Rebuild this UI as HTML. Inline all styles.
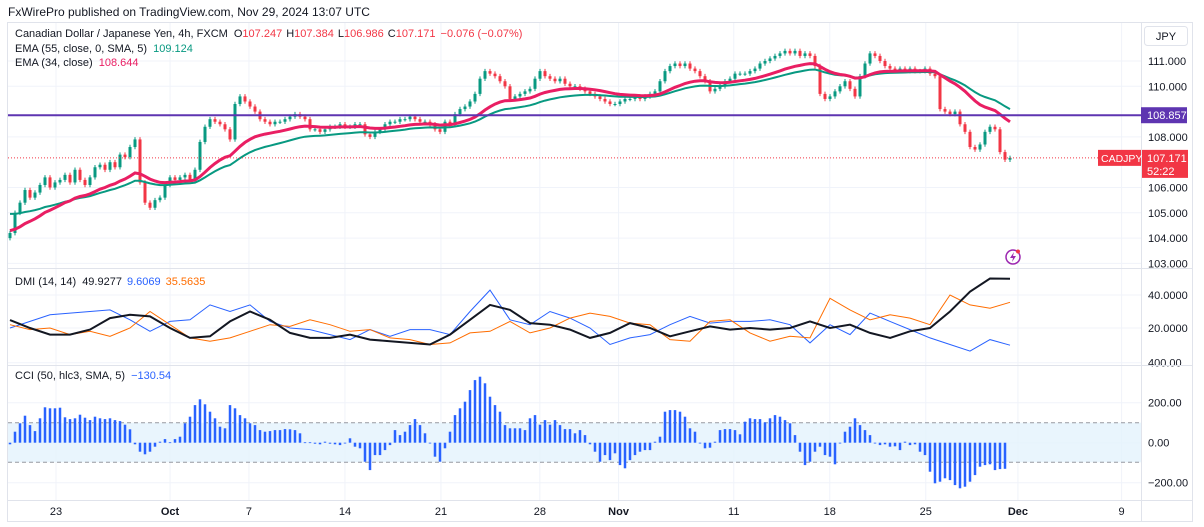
<!DOCTYPE html>
<html><head><meta charset="utf-8">
<style>
html,body{margin:0;padding:0;background:#fff;}
body{width:1204px;height:522px;overflow:hidden;font-family:"Liberation Sans",sans-serif;}
svg text{font-family:"Liberation Sans",sans-serif;}
</style></head>
<body>
<svg id="chart" width="1204" height="522" xmlns="http://www.w3.org/2000/svg">
<text x="8" y="16" font-size="12" fill="#131722">FxWirePro published on TradingView.com, Nov 29, 2024 13:07 UTC</text>
<rect x="7.5" y="22.5" width="1185" height="499" fill="none" stroke="#e0e3eb"/>
<g id="grid"></g>
<rect x="8" y="422.7" width="1133" height="39.6" fill="#e3f2fd" opacity="0.8"/>
<line x1="8" x2="1141" y1="422.7" y2="422.7" stroke="#9598a1" stroke-dasharray="4,3"/>
<line x1="8" x2="1141" y1="462.3" y2="462.3" stroke="#9598a1" stroke-dasharray="4,3"/>
<g id="candles"></g>
<g id="emas"></g>
<g id="dmi"></g>
<g id="cci"></g>
<g id="axes"></g>
<g font-size="11">
<text x="15" y="37" fill="#131722">Canadian Dollar / Japanese Yen, 4h, FXCM <tspan dx="3">O</tspan><tspan fill="#f23645">107.247</tspan><tspan dx="4">H</tspan><tspan fill="#f23645">107.384</tspan><tspan dx="4">L</tspan><tspan fill="#f23645">106.986</tspan><tspan dx="4">C</tspan><tspan fill="#f23645">107.171</tspan><tspan dx="5" fill="#f23645">−0.076 (−0.07%)</tspan></text>
<text x="15" y="52" fill="#131722">EMA (55, close, 0, SMA, 5) <tspan dx="3" fill="#089981">109.124</tspan></text>
<text x="15" y="66" fill="#131722">EMA (34, close) <tspan dx="3" fill="#e91e63">108.644</tspan></text>
<text x="15" y="285" fill="#131722">DMI (14, 14) <tspan dx="3">49.9277</tspan><tspan dx="5" fill="#2962ff">9.6069</tspan><tspan dx="5" fill="#ff6d00">35.5635</tspan></text>
<text x="15" y="379" fill="#131722">CCI (50, hlc3, SMA, 5) <tspan dx="3" fill="#2962ff">−130.54</tspan></text>
</g>
<rect x="1144.5" y="26.5" width="43" height="19" rx="3" fill="#fff" stroke="#e0e3eb"/>
<text x="1166" y="40" font-size="11" text-anchor="middle" fill="#131722">JPY</text>
<g>
<circle cx="1013" cy="257" r="7" fill="none" stroke="#9c27b0" stroke-width="1.5"/>
<path d="M1014 252 L1010 258 L1013 258 L1012 262 L1016 256 L1013 256 Z" fill="#9c27b0"/>
<circle cx="1018" cy="251.5" r="2" fill="#f23645"/>
</g>
</svg>
<script>
// ===== data =====
const closes=[104.2,105.0,105.4,105.9,105.6,105.8,106.1,106.4,106.0,106.2,106.3,106.5,106.2,106.7,106.3,106.1,106.4,106.8,106.9,106.7,107.0,106.8,107.3,107.2,107.6,107.9,106.2,105.4,105.2,105.5,105.6,106.1,106.4,106.3,106.4,106.5,106.3,106.7,107.8,108.4,108.7,108.6,108.5,108.3,107.9,109.3,109.6,109.4,109.2,109.0,108.7,108.6,108.5,108.6,108.6,108.7,108.8,108.9,108.8,108.7,108.3,108.3,108.2,108.3,108.4,108.4,108.5,108.4,108.4,108.5,108.5,108.1,108.0,108.2,108.3,108.5,108.6,108.6,108.7,108.7,108.8,108.7,108.6,108.6,108.5,108.3,108.2,108.6,108.5,108.9,109.1,109.2,109.4,109.7,110.3,110.6,110.5,110.4,110.2,110.0,109.5,109.6,109.7,109.8,109.9,110.3,110.6,110.4,110.3,110.2,110.3,110.1,110.0,110.0,109.9,109.8,109.7,109.6,109.5,109.4,109.3,109.3,109.4,109.5,109.5,109.6,109.5,109.6,109.7,109.8,110.2,110.6,110.8,110.9,110.8,110.9,110.7,110.6,110.4,110.2,109.8,109.9,110.0,110.2,110.3,110.5,110.5,110.5,110.6,110.7,110.9,111.0,111.1,111.2,111.3,111.4,111.3,111.4,111.2,111.3,111.2,110.8,109.7,109.5,109.6,109.8,110.0,110.2,109.9,109.6,110.4,110.9,111.3,111.2,111.0,110.8,110.7,110.6,110.7,110.6,110.7,110.6,110.6,110.7,110.5,110.4,109.1,109.0,108.9,109.0,108.5,108.2,107.6,107.5,107.7,108.2,108.4,108.3,107.4,107.1,107.171];
const cciValues=[-8,55,97,135,88,58,122,177,172,172,175,127,118,122,140,125,113,130,122,118,122,113,108,90,67,-8,-45,-58,-45,-20,5,18,2,18,30,97,130,188,217,192,155,122,80,72,188,172,138,122,97,88,63,55,58,63,63,68,67,63,47,2,2,-5,-8,5,-5,-8,-12,-3,22,-20,-28,-95,-137,-62,-62,-37,-12,63,38,55,88,118,88,47,-3,-70,-95,-28,55,138,172,205,263,313,330,297,230,188,155,88,72,72,72,63,122,138,90,113,90,113,88,68,68,47,63,38,-8,-45,-95,-62,-87,-53,-112,-128,-87,-62,-45,-37,-37,5,30,155,163,163,155,130,72,55,-3,-28,-25,5,63,68,68,63,42,105,122,118,118,102,122,138,130,113,97,38,-45,-112,-95,-45,-20,-62,-70,-108,-3,55,80,122,88,63,38,-3,-12,-8,-20,-18,-37,5,-12,-8,-45,-62,-145,-203,-195,-178,-187,-212,-228,-220,-195,-162,-120,-112,-108,-137,-132,-130.54];
const adxValues=[24.8,20,16,16,19,26,28,27,20,14,15,24,30,25,17,14,14,16,13,12,11,10,16,25,34,31,23,22,19,14,17,23,20,15,18,21,19,20,19,20,24,20,22,17,14,18,20,30,42,50,49.9];
const plusDI=[20,24,28,29,30,31,25,18,24,25,34,30,34,24,20,19,16,13,19,15,19,19,16,30,43,25,22,30,26,20,10,14,16,22,27,23,24,24,25,22,11,22,16,29,24,19,14,10,6,13,9.6];
const minusDI=[22,19,20,16,18,15,20,30,22,14,12,14,18,22,21,25,22,18,19,14,13,10,11,17,18,24,17,20,26,29,27,23,22,13,12,24,25,17,12,15,14,38,31,25,28,26,22,40,34,32,35.6];
const priceTicks=[111,110,108,106,105,104,103];
const dmiTicks=[40,20];
const cciTicks=[400,200,0,-200];
const dateLabels=["23","Oct","7","14","21","28","Nov","11","18","25","Dec","9"];
const dateDays=[0,5.94,10.05,15.05,20.05,25.2,29.3,35.3,40.3,45.3,50.1,55.5]; // trading-day offsets from Sep 23
const hLevel=108.857;
const lastPrice=107.171;

// ===== scales =====
const NS='http://www.w3.org/2000/svg';
const xBar=i=>10+i*5;
const xDay=d=>56+d*19.2;
const yPrice=p=>61+(111-p)*25.3;
const yDmi=v=>328-(v-20)*1.65;
const yCci=v=>442.7-v*0.2;
const xDmi=i=>10+i*20;
function mk(tag,attrs,parent){const e=document.createElementNS(NS,tag);for(const k in attrs)e.setAttribute(k,attrs[k]);parent.appendChild(e);return e;}
const grid=document.getElementById('grid');
const axes=document.getElementById('axes');

dateDays.forEach((d,i)=>{
  const l=mk('line',{x1:xDay(d),x2:xDay(d),y1:23,y2:500,stroke:'#f0f3fa'},grid);
  
  
  const t=mk('text',{x:xDay(d),y:515,'font-size':11,'text-anchor':'middle',fill:'#131722','font-weight':(dateLabels[i]==='Oct'||dateLabels[i]==='Nov'||dateLabels[i]==='Dec')?'bold':'normal'},axes);
  t.textContent=dateLabels[i];
  
  
});
priceTicks.forEach(p=>{
  const l=mk('line',{x1:8,x2:1141,y1:yPrice(p),y2:yPrice(p),stroke:'#f0f3fa'},grid);
  
  
  const t=mk('text',{x:1148,y:yPrice(p)+4,'font-size':11,fill:'#131722'},axes);
  t.textContent=p.toFixed(3);
  
  
});
dmiTicks.forEach(v=>{
  const l=mk('line',{x1:8,x2:1141,y1:yDmi(v),y2:yDmi(v),stroke:'#f0f3fa'},grid);
  
  
  const t=mk('text',{x:1148,y:yDmi(v)+4,'font-size':11,fill:'#131722'},axes);
  t.textContent=v.toFixed(4);
  
  
});
cciTicks.forEach(v=>{
  const l=mk('line',{x1:8,x2:1141,y1:yCci(v),y2:yCci(v),stroke:'#f0f3fa'},grid);
  
  
  const t=mk('text',{x:1148,y:yCci(v)+4,'font-size':11,fill:'#131722'},axes);
  t.textContent=(v<0?'−':'')+Math.abs(v).toFixed(2);
  
  
});
[268,365,500].forEach(y=>{
  const l=mk('line',{x1:8,x2:1193,y1:y+0.5,y2:y+0.5,stroke:'#e0e3eb'},axes);
  
  
});
const ax=mk('line',{x1:1141.5,x2:1141.5,y1:23,y2:522,stroke:'#e0e3eb'},axes);



const cg=document.getElementById('candles');
closes.forEach((c,i)=>{
  const o=i>0?closes[i-1]:c-0.2;
  const up=c>=o;
  const col=up?'#089981':'#f23645';
  const hi=Math.max(o,c)+0.09, lo=Math.min(o,c)-0.09;
  const x=xBar(i);
  const w=mk('line',{x1:x,x2:x,y1:yPrice(hi),y2:yPrice(lo),stroke:col,'stroke-width':1},cg);
  
  
  const top=yPrice(Math.max(o,c)),bot=yPrice(Math.min(o,c));
  const b=mk('rect',{x:x-1.5,y:top,width:3,height:Math.max(1,bot-top),fill:col},cg);
  
  
});
const eg=document.getElementById('emas');
function ema(seed,alpha){let e=seed;return closes.map(c=>{e=e+alpha*(c-e);return e;});}
const ema55=ema(105.0,0.055), ema34=ema(104.3,0.088);
function path(arr,xf,yf){return arr.map((v,i)=>(i?'L':'M')+xf(i).toFixed(1)+' '+yf(v).toFixed(1)).join(' ');}
const g55=mk('path',{d:path(ema55,xBar,yPrice),fill:'none',stroke:'#089981','stroke-width':2},eg);


const g34=mk('path',{d:path(ema34,xBar,yPrice),fill:'none',stroke:'#e91e63','stroke-width':3},eg);


const hl=mk('line',{x1:8,x2:1141,y1:yPrice(hLevel),y2:yPrice(hLevel),stroke:'#5e35b1','stroke-width':2},eg);


const lp=mk('line',{x1:8,x2:1141,y1:yPrice(lastPrice),y2:yPrice(lastPrice),stroke:'#f23645','stroke-width':1,'stroke-dasharray':'1,2'},eg);


const hb=mk('rect',{x:1141,y:yPrice(hLevel)-8,width:46,height:16,fill:'#5e35b1'},axes);


const ht=mk('text',{x:1147,y:yPrice(hLevel)+4,'font-size':11,fill:'#fff'},axes);
ht.textContent=hLevel.toFixed(3);


const sb=mk('rect',{x:1098,y:yPrice(lastPrice)-8,width:43,height:16,fill:'#f23645'},axes);


const st=mk('text',{x:1101,y:yPrice(lastPrice)+4,'font-size':10.5,fill:'#fff'},axes);
st.textContent='CADJPY';


const pb=mk('rect',{x:1142,y:yPrice(lastPrice)-8,width:46,height:28,fill:'#f23645'},axes);


const pt=mk('text',{x:1147,y:yPrice(lastPrice)+4,'font-size':11,fill:'#fff'},axes);
pt.textContent=lastPrice.toFixed(3);


const ct=mk('text',{x:1147,y:yPrice(lastPrice)+17,'font-size':11,fill:'#fff'},axes);
ct.textContent='52:22';



const dg=document.getElementById('dmi');
const pPlus=mk('path',{d:path(plusDI,xDmi,yDmi),fill:'none',stroke:'#2962ff','stroke-width':1},dg);


const pMinus=mk('path',{d:path(minusDI,xDmi,yDmi),fill:'none',stroke:'#ff6d00','stroke-width':1},dg);


const pAdx=mk('path',{d:path(adxValues,xDmi,yDmi),fill:'none',stroke:'#131722','stroke-width':2},dg);



const hg=document.getElementById('cci');
cciValues.forEach((v,i)=>{
  const y0=yCci(0),y1=yCci(v);
  const r=mk('rect',{x:xBar(i)-1.25,y:Math.min(y0,y1),width:2.5,height:Math.max(0.8,Math.abs(y1-y0)),fill:'#2962ff'},hg);
  
  
});
</script>
</body></html>
